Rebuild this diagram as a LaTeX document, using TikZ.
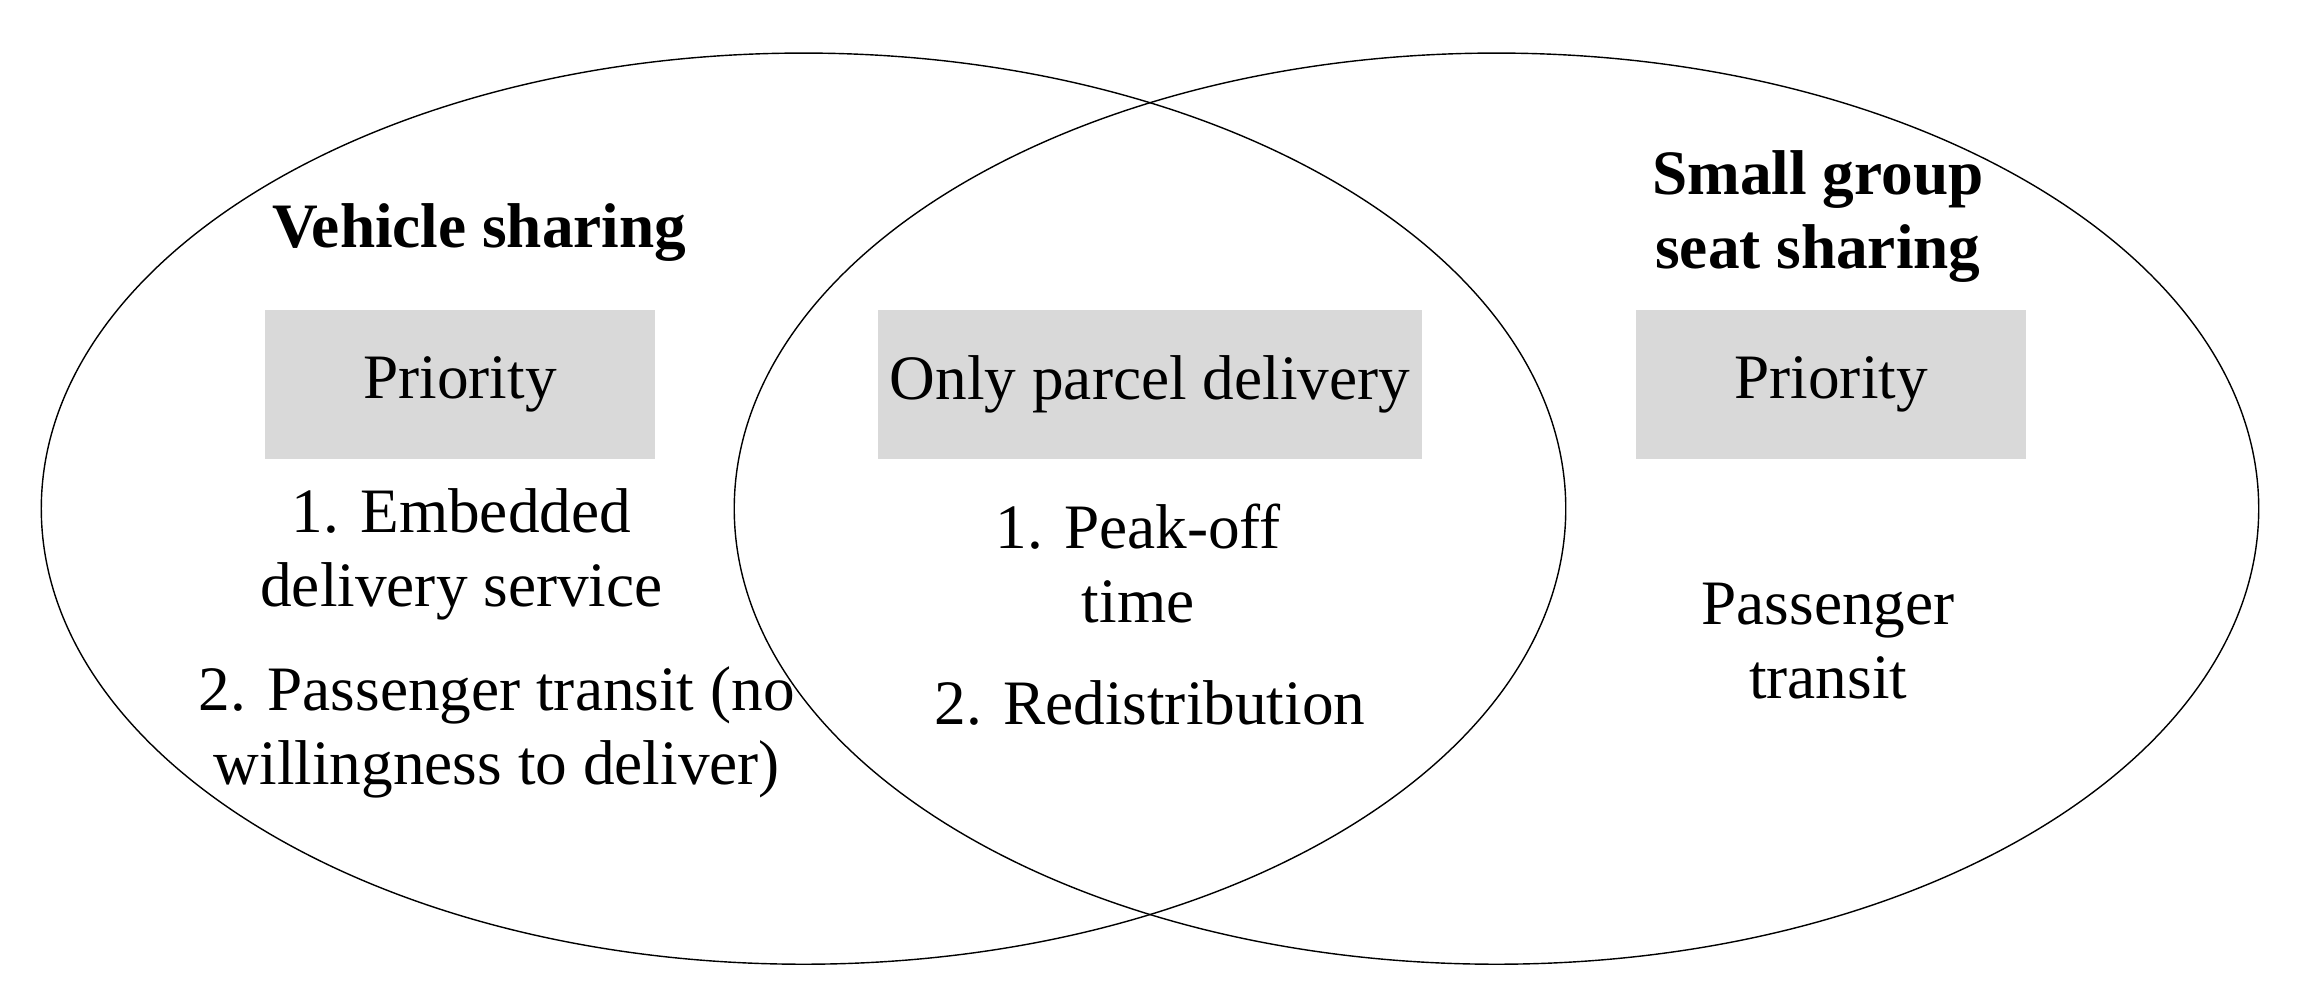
\documentclass[tikz,border=0pt]{standalone}
\usepackage{fontspec}
\setmainfont{Liberation Serif}
\usetikzlibrary{positioning}
\tikzset{
  ring/.style={draw,thin},
  head/.style={font=\fontsize{18}{21}\selectfont\bfseries,align=center},
  tag/.style={fill=black!15,minimum width=3.9cm,minimum height=1.49cm,font=\fontsize{18}{21}\selectfont},
  item/.style={font=\fontsize{18}{21}\selectfont,align=center}
}
\begin{document}
\begin{tikzpicture}[x=0.014744cm,y=-0.014744cm]
\useasboundingbox(0,0)rectangle(1560,673);
\draw[ring](545,345)ellipse[x radius=517,y radius=309];
\draw[ring](1015,345)ellipse[x radius=517,y radius=309];
\node[head](vs)at(325,158){Vehicle sharing};
\node[head](sg)at(1233,147){Small group\\seat sharing};
\node[tag](lp)at(312,261){Priority};
\node[tag,minimum width=5.32cm](cp)at(780,261){Only parcel delivery};
\node[tag](rp)at(1242,261){Priority};
\node[item](l1)at(313,376){1. Embedded\\delivery service};
\node[item](l2)at(337,497){2. Passenger transit (no\\willingness to deliver)};
\node[item](c1)at(772,382){1. Peak-off\\time};
\node[item](c2)at(780,477){2. Redistribution};
\node[item](r1)at(1240,435){Passenger\\transit};
\end{tikzpicture}
\end{document}
